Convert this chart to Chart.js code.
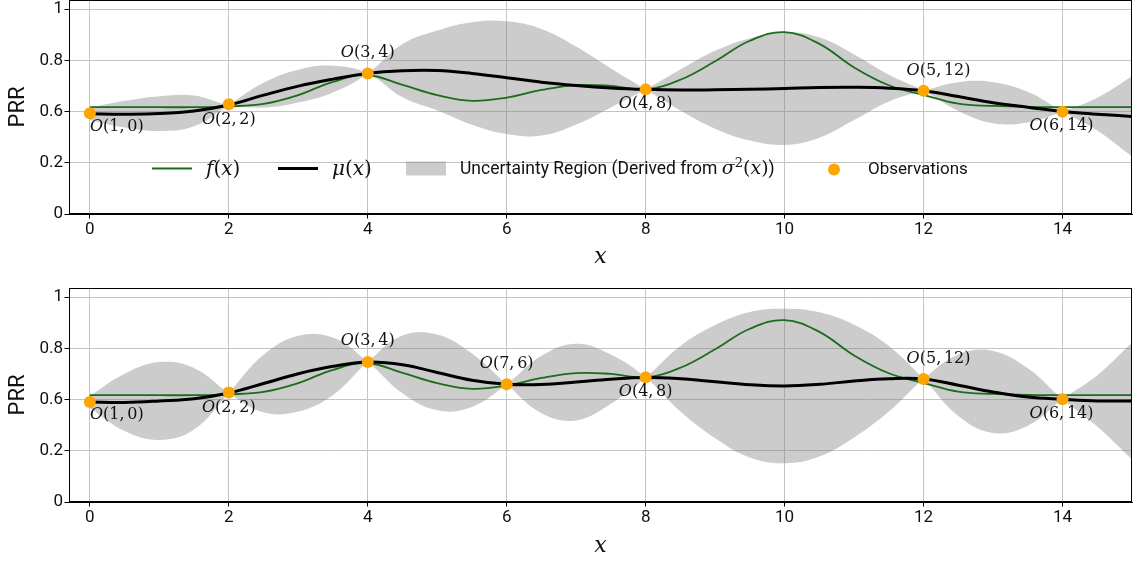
<!DOCTYPE html>
<html>
<head>
<meta charset="utf-8">
<script src="https://cdn.jsdelivr.net/npm/chart.js@4.4.0/dist/chart.umd.min.js"></script>
<style>
    html, body { margin: 0; padding: 0; background: #fff; }
    .panel { position: absolute; left: 0; width: 1139px; }
    #topPanel { top: 0; height: 280px; }
    #bottomPanel { top: 280px; height: 281px; }
</style>
</head>
<body>
<div class="panel" id="topPanel"><canvas id="topChart" width="1139" height="280"></canvas></div>
<div class="panel" id="bottomPanel"><canvas id="bottomChart" width="1139" height="281"></canvas></div>
<script>
// sample positions along x
const xGrid = [0, 0.5, 1, 1.5, 2, 2.5, 3, 3.5, 4, 4.5, 5, 5.5, 6, 6.5, 7, 7.5, 8, 8.5, 9, 9.5, 10, 10.5, 11, 11.5, 12, 12.5, 13, 13.5, 14, 14.5, 15];

// f(x) - same in both panels
const fTrue = [0.521, 0.521, 0.521, 0.521, 0.525, 0.537, 0.580, 0.645, 0.677, 0.630, 0.580, 0.552, 0.568, 0.605, 0.629, 0.625, 0.608, 0.655, 0.745, 0.845, 0.887, 0.830, 0.715, 0.628, 0.581, 0.538, 0.527, 0.522, 0.521, 0.521, 0.521];

// top panel: mu(x) and the two edges of the uncertainty region
// (the edges cross at every observation, so edgeA/edgeB swap sides there)
const muTop = [0.489, 0.487, 0.490, 0.503, 0.532, 0.580, 0.624, 0.658, 0.686, 0.699, 0.700, 0.686, 0.665, 0.643, 0.627, 0.615, 0.608, 0.605, 0.606, 0.608, 0.612, 0.617, 0.618, 0.614, 0.601, 0.573, 0.543, 0.521, 0.500, 0.487, 0.476];
const edgeATop = [0.519, 0.552, 0.575, 0.578, 0.532, 0.520, 0.544, 0.593, 0.686, 0.829, 0.895, 0.936, 0.940, 0.903, 0.817, 0.710, 0.608, 0.505, 0.416, 0.358, 0.337, 0.372, 0.458, 0.549, 0.601, 0.643, 0.643, 0.596, 0.500, 0.407, 0.280];
const edgeBTop = [0.459, 0.422, 0.405, 0.428, 0.532, 0.640, 0.704, 0.723, 0.686, 0.569, 0.505, 0.436, 0.390, 0.383, 0.437, 0.520, 0.608, 0.705, 0.796, 0.858, 0.887, 0.862, 0.778, 0.679, 0.601, 0.503, 0.443, 0.446, 0.500, 0.567, 0.672];
const obsXTop = [0, 2, 4, 8, 12, 14];
const obsYTop = [0.491, 0.535, 0.685, 0.608, 0.601, 0.499];
const namesTop = ['O(1,0)', 'O(2,2)', 'O(3,4)', 'O(4,8)', 'O(5,12)', 'O(6,14)'];

// bottom panel
const muBot = [0.488, 0.486, 0.493, 0.504, 0.532, 0.578, 0.626, 0.662, 0.683, 0.670, 0.632, 0.594, 0.574, 0.573, 0.585, 0.599, 0.607, 0.601, 0.587, 0.572, 0.566, 0.574, 0.590, 0.601, 0.600, 0.570, 0.537, 0.512, 0.501, 0.493, 0.493];
const edgeABot = [0.518, 0.626, 0.683, 0.654, 0.532, 0.438, 0.441, 0.522, 0.683, 0.812, 0.817, 0.724, 0.574, 0.433, 0.398, 0.479, 0.607, 0.761, 0.863, 0.927, 0.943, 0.926, 0.865, 0.761, 0.600, 0.420, 0.337, 0.372, 0.501, 0.618, 0.778];
const edgeBBot = [0.458, 0.346, 0.303, 0.354, 0.532, 0.718, 0.811, 0.802, 0.683, 0.530, 0.447, 0.464, 0.574, 0.713, 0.772, 0.719, 0.607, 0.441, 0.311, 0.217, 0.189, 0.222, 0.315, 0.441, 0.600, 0.720, 0.737, 0.652, 0.501, 0.368, 0.208];
const obsXBot = [0, 2, 4, 6, 8, 12, 14];
const obsYBot = [0.488, 0.534, 0.683, 0.574, 0.608, 0.600, 0.501];
const namesBot = ['O(1,0)', 'O(2,2)', 'O(3,4)', 'O(7,6)', 'O(4,8)', 'O(5,12)', 'O(6,14)'];

// axis ticks (the y labels are not evenly valued, as in the original)
const xTickValues = [0, 2, 4, 6, 8, 10, 12, 14];
const yTickValues = [0, 0.25, 0.5, 0.75, 1];
const yTickLabels = ['0', '0.2', '0.6', '0.8', '1'];

// label offsets in px from the observation point
const labelOffsets = {
    'O(1,0)': [27, 13],
    'O(2,2)': [0, 15.5],
    'O(3,4)': [0, -21],
    'O(7,6)': [0, -20],
    'O(4,8)': [0, 14],
    'O(5,12)': [15, -20],
    'O(6,14)': [-1, 14.5]
};

// legend handle start positions (px) in the top panel
const legendHandleX = [152, 278, 406, 814];

const SERIF = '"DejaVu Serif"';
const SANS = 'Roboto';
const GREEN = '#1e6b1e';
const BAND = 'rgba(128,128,128,0.4)';

const toPoints = (xs, ys) => xs.map((x, i) => ({ x: x, y: ys[i] }));

// draw a list of runs [{text, font, dy, gap}] with a middle baseline
function drawRuns(ctx, runs, x, y, align) {
    let total = 0;
    runs.forEach(r => { ctx.font = r.font; total += ctx.measureText(r.text).width + (r.gap || 0); });
    let cx = align === 'center' ? x - total / 2 : x;
    ctx.textBaseline = 'middle';
    ctx.textAlign = 'left';
    runs.forEach(r => {
        ctx.font = r.font;
        ctx.fillText(r.text, cx, y + (r.dy || 0));
        cx += ctx.measureText(r.text).width + (r.gap || 0);
    });
    return total;
}

function mathRuns(str, size) {
    const runs = [];
    for (const ch of str) {
        const italic = /[A-Za-z\u03bc\u03c3]/.test(ch);
        runs.push({
            text: ch,
            font: (italic ? 'italic ' : '') + size + 'px ' + SERIF,
            gap: ch === ',' ? size * 0.17 : 0
        });
    }
    return runs;
}

const framePlugin = {
    id: 'frame',
    afterDraw(chart) {
        const { ctx, chartArea: a } = chart;
        ctx.save();
        ctx.strokeStyle = '#000';
        ctx.lineWidth = 1;
        ctx.strokeRect(Math.round(a.left) + 0.5, Math.round(a.top) + 0.5,
            Math.round(a.right - a.left) - 1, Math.round(a.bottom - a.top) - 1);
        ctx.restore();
    }
};

const obsLabelPlugin = {
    id: 'obsLabels',
    afterDatasetsDraw(chart, args, opts) {
        const { ctx, scales } = chart;
        ctx.save();
        ctx.fillStyle = '#111';
        opts.names.forEach((name, i) => {
            const px = scales.x.getPixelForValue(opts.xs[i]);
            const py = scales.y.getPixelForValue(opts.ys[i]);
            const off = labelOffsets[name];
            drawRuns(ctx, mathRuns(name, 16), px + off[0], py + off[1], 'center');
        });
        ctx.restore();
    }
};

const legendPlugin = {
    id: 'innerLegend',
    afterDraw(chart) {
        const { ctx } = chart;
        const y = 169.5;
        const handleLen = 40, pad = 14;
        const sansFont = '17.5px ' + SANS;
        const items = [
            { kind: 'line', color: GREEN, width: 2, runs: mathRuns('f(x)', 20) },
            { kind: 'line', color: '#000', width: 3, runs: mathRuns('\u03bc(x)', 20) },
            { kind: 'rect', runs: [{ text: 'Uncertainty Region (Derived from ', font: sansFont }]
                .concat(mathRuns('\u03c3', 19))
                .concat([{ text: '2', font: '13px ' + SERIF, dy: -6 }])
                .concat(mathRuns('(x)', 19))
                .concat([{ text: ')', font: sansFont }]) },
            { kind: 'dot', runs: [{ text: 'Observations', font: '17px ' + SANS }] }
        ];
        ctx.save();
        items.forEach((it, i) => {
            const x = legendHandleX[i];
            if (it.kind === 'line') {
                ctx.strokeStyle = it.color;
                ctx.lineWidth = it.width;
                ctx.beginPath();
                ctx.moveTo(x, y - 1);
                ctx.lineTo(x + handleLen, y - 1);
                ctx.stroke();
            } else if (it.kind === 'rect') {
                ctx.fillStyle = BAND;
                ctx.fillRect(x, y - 8, handleLen, 14);
            } else {
                ctx.fillStyle = 'orange';
                ctx.beginPath();
                ctx.arc(x + handleLen / 2, y, 6, 0, Math.PI * 2);
                ctx.fill();
            }
            ctx.fillStyle = '#111';
            drawRuns(ctx, it.runs, x + handleLen + pad, y, 'left');
        });
        ctx.restore();
    }
};

function makeChart(canvasId, cfg) {
    const ctx = document.getElementById(canvasId).getContext('2d');
    const datasets = [
        {
            label: 'Observations',
            data: toPoints(cfg.obsX, cfg.obsY),
            showLine: false,
            pointRadius: 6,
            pointBackgroundColor: 'orange',
            pointBorderWidth: 0
        },
        {
            label: 'mu',
            data: toPoints(xGrid, cfg.mu),
            borderColor: '#000',
            borderWidth: 3,
            pointRadius: 0,
            tension: 0.4,
            fill: false
        },
        {
            label: 'f',
            data: toPoints(xGrid, fTrue),
            borderColor: GREEN,
            borderWidth: 1.8,
            pointRadius: 0,
            tension: 0.4,
            fill: false
        },
        {
            label: 'edgeA',
            data: toPoints(xGrid, cfg.edgeA),
            borderWidth: 0,
            borderColor: 'rgba(0,0,0,0)',
            backgroundColor: BAND,
            pointRadius: 0,
            tension: 0.4,
            fill: '+1'
        },
        {
            label: 'edgeB',
            data: toPoints(xGrid, cfg.edgeB),
            borderWidth: 0,
            borderColor: 'rgba(0,0,0,0)',
            pointRadius: 0,
            tension: 0.4,
            fill: false
        }
    ];

    const plugins = [framePlugin, obsLabelPlugin];
    if (cfg.legend) plugins.push(legendPlugin);

    return new Chart(ctx, {
        type: 'line',
        data: { datasets: datasets },
        plugins: plugins,
        options: {
            responsive: false,
            animation: false,
            devicePixelRatio: 1,
            events: [],
            layout: { autoPadding: false, padding: { left: 0, right: 7, top: cfg.padTop, bottom: 0 } },
            plugins: {
                legend: { display: false },
                tooltip: { enabled: false },
                obsLabels: { names: cfg.names, xs: cfg.obsX, ys: cfg.obsY }
            },
            scales: {
                x: {
                    type: 'linear',
                    min: -0.3,
                    max: 15,
                    afterBuildTicks: s => { s.ticks = xTickValues.map(v => ({ value: v })); },
                    afterFit: s => { s.height = cfg.xAxisHeight; s.paddingLeft = 0; s.paddingRight = 0; },
                    grid: { color: '#c4c4c4', lineWidth: 1, tickColor: '#000', tickLength: 4.5, tickWidth: 1 },
                    border: { color: '#000', width: 1 },
                    ticks: {
                        color: '#111',
                        padding: 1,
                        maxRotation: 0,
                        font: { family: SANS, size: 17 },
                        callback: v => String(v)
                    },
                    title: {
                        display: true,
                        text: 'x',
                        color: '#111',
                        font: { family: SERIF, style: 'italic', size: 22 },
                        padding: { top: 0, bottom: cfg.xTitlePad }
                    }
                },
                y: {
                    min: 0,
                    max: 1.044,
                    afterBuildTicks: s => { s.ticks = yTickValues.map(v => ({ value: v })); },
                    afterFit: s => { s.width = 69; s.paddingTop = 0; s.paddingBottom = 0; },
                    grid: { color: '#c4c4c4', lineWidth: 1, tickColor: '#000', tickLength: 4.5, tickWidth: 1 },
                    border: { color: '#000', width: 1 },
                    ticks: {
                        color: '#111',
                        padding: 1.5,
                        font: { family: SANS, size: 17 },
                        callback: v => yTickLabels[yTickValues.indexOf(v)]
                    },
                    title: {
                        display: true,
                        text: 'PRR',
                        color: '#111',
                        font: { family: SANS, size: 22 },
                        padding: { top: 5, bottom: 0 }
                    }
                }
            }
        }
    });
}

makeChart('topChart', {
    mu: muTop, edgeA: edgeATop, edgeB: edgeBTop,
    obsX: obsXTop, obsY: obsYTop, names: namesTop,
    padTop: 0, xAxisHeight: 66, xTitlePad: 9.5, legend: true
});

makeChart('bottomChart', {
    mu: muBot, edgeA: edgeABot, edgeB: edgeBBot,
    obsX: obsXBot, obsY: obsYBot, names: namesBot,
    padTop: 8, xAxisHeight: 59, xTitlePad: 2, legend: false
});
</script>
</body>
</html>
